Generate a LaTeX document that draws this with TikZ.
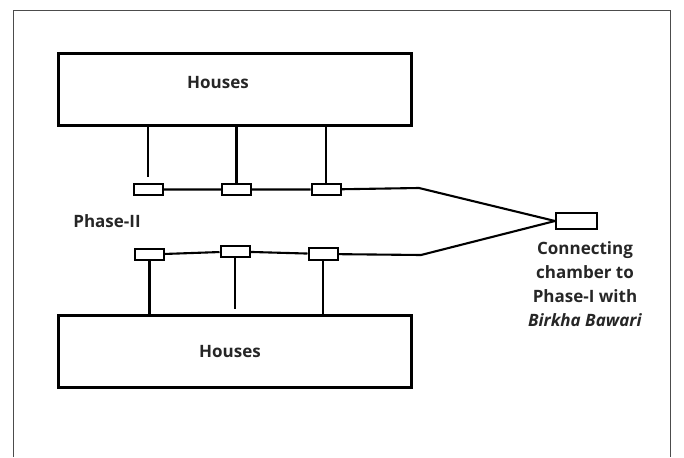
\documentclass[tikz,border=0pt]{standalone}
\usepackage{fontspec}
\setmainfont{Open Sans}
\begin{document}
\begin{tikzpicture}[x=1pt, y=-1pt,
    house/.style = {draw, line width=2.8pt, minimum width=353pt, minimum height=72pt, inner sep=0pt},
    chamber/.style = {draw, line width=2pt, minimum width=29pt, minimum height=11.5pt, inner sep=0pt},
    pipe/.style = {line width=2.1pt},
    lbl/.style = {font=\fontsize{17}{24}\selectfont\bfseries, text=black!85, inner sep=0pt}]
  \useasboundingbox (0,0) rectangle (684,457);
  \draw[line width=0.9pt, black!70] (13,457) -- (13,10) -- (670,10) -- (670,457);
  % houses
  \node[house] (H1) at (235,89.5) {};
  \node[house] (H2) at (235,351.5) {};
  \node[lbl] (t1) at (218,83) {Houses};
  \node[lbl] (t2) at (230,352) {Houses};
  % chambers
  \foreach \n/\x/\y in {C1/148/189.5, C2/236.5/189.5, C3/326/189.5, D1/149.5/254.5, D2/235/251.5, D3/323/254} {
    \node[chamber] (\n) at (\x,\y) {};
  }
  \node[chamber, minimum width=41pt, minimum height=16pt] (R) at (576.5,221) {};
  \coordinate (tb) at (419,188);
  \coordinate (bb) at (421,255);
  \coordinate (e1) at (148,177);
  \coordinate (e2) at (235,309);
  % pipes
  \draw[pipe] (C1) -- (C2) -- (C3) -- (tb) -- (R.west);
  \draw[pipe] (D1) -- (D2) -- (D3) -- (bb) -- (R.west);
  \draw[pipe] (e1 |- H1.south) -- (e1);
  \foreach \i in {C2, C3} {
    \draw[pipe] (\i.north |- H1.south) -- (\i.north);
  }
  \foreach \i in {D1, D3} {
    \draw[pipe] (\i.south) -- (\i.south |- H2.north);
  }
  \draw[pipe] (D2.south) -- (e2);
  % labels
  \node[lbl] (ph) at (107,221) {Phase-II};
  \node[lbl, align=center] (cc) at (585,284) {Connecting\\chamber to\\Phase-I with\\\textit{Birkha Bawari}};
\end{tikzpicture}
\end{document}
